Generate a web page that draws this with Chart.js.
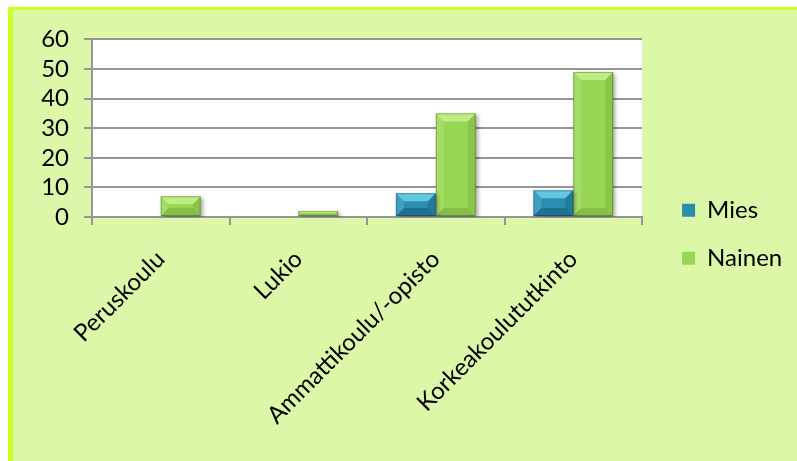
<!DOCTYPE html>
<html>
<head>
<meta charset="utf-8">
<script src="https://cdn.jsdelivr.net/npm/chart.js@4.4.1/dist/chart.umd.min.js"></script>
<style>
  html, body { margin: 0; padding: 0; background: #fff; overflow: hidden; }
  #frame {
    position: absolute; left: 8px; top: 7px;
    width: 784px; height: 451px;
    background: #dcf7a8;
    border-top: 3px solid #ccff22;
    border-left: 5px solid #ccff22;
  }
  #frame canvas { display: block; }
</style>
</head>
<body>
<div id="frame"><canvas id="koulutus" width="784" height="451"></canvas></div>
<script>
// education level by gender
var categories = ['Peruskoulu', 'Lukio', 'Ammattikoulu/-opisto', 'Korkeakoulututkinto'];
var mies = [0, 0, 8, 9];
var nainen = [7, 2, 35, 49];
var yTicks = [0, 10, 20, 30, 40, 50, 60];

var FONT = 'Lato, "Open Sans", sans-serif';
var FS = 24;
var gridGray = '#969696';

// facet colours for the bevelled bars: [top, left, right, bottom]
var bevels = [
  ['rgba(120,225,250,0.7)', 'rgba(120,220,245,0.25)', 'rgba(0,40,60,0.18)', 'rgba(0,40,60,0.28)'],
  ['rgba(215,255,160,0.6)', 'rgba(220,255,170,0.2)', 'rgba(50,90,10,0.12)', 'rgba(50,90,10,0.18)']
];

// legend width is padding + box + gap + text, so work out the right padding from it
var legendPad = 24;
var legendGap = 16;
var measure = document.createElement('canvas').getContext('2d');
measure.font = FS + 'px ' + FONT;
var legendW = legendPad + 13 + FS / 2 + measure.measureText('Nainen').width;
var rightPad = Math.max(0, 784 - 634 - legendGap - legendW);

var plotBg = {
  id: 'plotBg',
  beforeDraw: function (chart) {
    var a = chart.chartArea, ctx = chart.ctx;
    ctx.save();
    ctx.fillStyle = '#ffffff';
    ctx.fillRect(a.left, a.top, a.right - a.left, a.bottom - a.top);
    ctx.restore();
  }
};

var bevel = {
  id: 'bevel',
  beforeDatasetsDraw: function (chart) {
    var ctx = chart.ctx;
    ctx.save();
    ctx.shadowColor = 'rgba(0,0,0,0.35)';
    ctx.shadowBlur = 4;
    ctx.shadowOffsetX = 2;
    ctx.shadowOffsetY = 2;
  },
  afterDatasetsDraw: function (chart) {
    var ctx = chart.ctx;
    ctx.restore();
    chart.data.datasets.forEach(function (ds, i) {
      var meta = chart.getDatasetMeta(i);
      var c = bevels[i];
      meta.data.forEach(function (bar) {
        var p = bar.getProps(['x', 'y', 'base', 'width'], true);
        var l = p.x - p.width / 2, r = p.x + p.width / 2, t = p.y, b = p.base;
        var h = b - t;
        if (h < 1) return;
        var s = Math.min(8, h / 2);
        var poly = function (pts, col) {
          ctx.beginPath();
          ctx.moveTo(pts[0][0], pts[0][1]);
          for (var k = 1; k < pts.length; k++) ctx.lineTo(pts[k][0], pts[k][1]);
          ctx.closePath();
          ctx.fillStyle = col;
          ctx.fill();
        };
        ctx.save();
        poly([[l, t], [r, t], [r - s, t + s], [l + s, t + s]], c[0]);
        poly([[l, t], [l + s, t + s], [l + s, b - s], [l, b]], c[1]);
        poly([[r, t], [r, b], [r - s, b - s], [r - s, t + s]], c[2]);
        poly([[l, b], [l + s, b - s], [r - s, b - s], [r, b]], c[3]);
        ctx.strokeStyle = 'rgba(0,0,0,0.25)';
        ctx.lineWidth = 1;
        ctx.strokeRect(l + 0.5, t + 0.5, p.width - 1, h - 1);
        ctx.restore();
      });
    });
  }
};

new Chart(document.getElementById('koulutus'), {
  type: 'bar',
  data: {
    labels: categories,
    datasets: [
      { label: 'Mies', data: mies, backgroundColor: '#2b8db0', borderWidth: 0 },
      { label: 'Nainen', data: nainen, backgroundColor: '#97d555', borderWidth: 0 }
    ]
  },
  options: {
    responsive: false,
    animation: false,
    categoryPercentage: 0.58,
    barPercentage: 1,
    layout: { padding: { top: 21.5, left: 0, bottom: 24, right: rightPad } },
    plugins: {
      tooltip: { enabled: false },
      legend: {
        position: 'right',
        labels: {
          font: { family: FONT, size: FS },
          color: '#000',
          boxWidth: 13,
          boxHeight: 13,
          padding: legendPad
        }
      }
    },
    scales: {
      y: {
        min: 0,
        max: 60,
        afterFit: function (s) { s.width = 79; },
        afterBuildTicks: function (s) { s.ticks = yTicks.map(function (v) { return { value: v }; }); },
        ticks: { font: { family: FONT, size: FS }, color: '#000', padding: 15, autoSkip: false },
        grid: { color: gridGray, lineWidth: 2, tickLength: 8 },
        border: { color: gridGray, width: 2 }
      },
      // empty axis that only holds the gap between the plot and the legend
      gap: {
        type: 'linear',
        position: 'right',
        afterFit: function (s) { s.width = legendGap; },
        ticks: { display: false },
        grid: { display: false, drawTicks: false },
        border: { display: false }
      },
      x: {
        afterFit: function (s) { s.height = 220; },
        ticks: {
          font: { family: FONT, size: FS },
          color: '#000',
          minRotation: 45,
          maxRotation: 45,
          autoSkip: false,
          padding: 20
        },
        grid: { color: gridGray, lineWidth: 2, drawOnChartArea: false, tickLength: 8 },
        border: { color: gridGray, width: 2 }
      }
    }
  },
  plugins: [plotBg, bevel]
});
</script>
</body>
</html>
